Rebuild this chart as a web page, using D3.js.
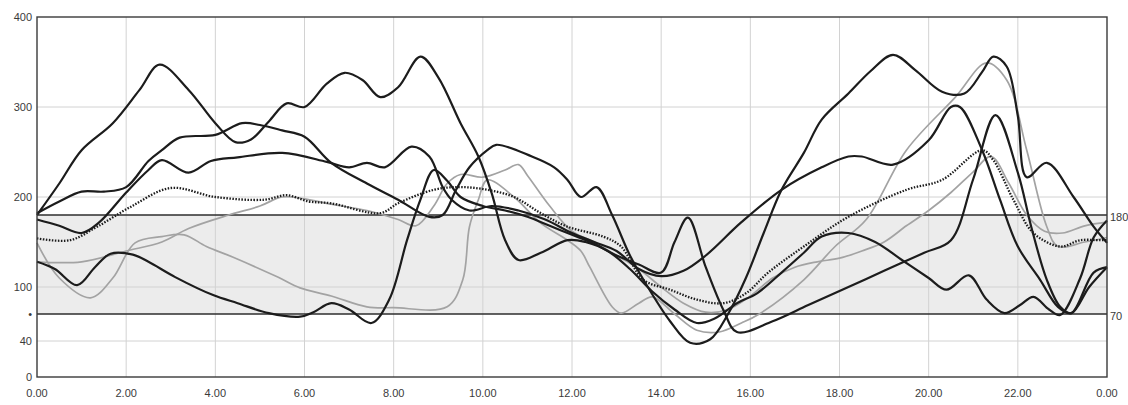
<!DOCTYPE html>
<html>
<head>
<meta charset="utf-8">
<script src="https://cdn.jsdelivr.net/npm/d3@7"></script>
<style>
  body { margin: 0; background: #fff; }
  text { font-family: "Liberation Sans", Arial, sans-serif; font-size: 11px; fill: #3a3a3a; }
</style>
</head>
<body>
<svg id="chart"></svg>
<script>
var svgWidth = 1128;
var svgHeight = 405;

// tick labels
var hourTicks = [0, 2, 4, 6, 8, 10, 12, 14, 16, 18, 20, 22, 24];
var hourLabels = ["0.00", "2.00", "4.00", "6.00", "8.00", "10.00", "12.00", "14.00", "16.00", "18.00", "20.00", "22.00", "0.00"];
var yTicks = [0, 40, 70, 100, 200, 300, 400];
var yLabels = ["0", "40", "•", "100", "200", "300", "400"];
var yGrid = [40, 100, 200, 300];
var targetLow = 70;
var targetHigh = 180;

// daily profiles: [hour, mg/dl]
var dayA = [[0,182],[0.5,195],[1,206],[1.5,206],[2,211],[2.5,240],[2.8,252],[3.2,266],[4,269],[4.6,282],[5,280],[5.5,274],[6,267],[6.6,238],[7.4,215],[8.1,197],[8.8,178],[9.1,180],[9.4,208],[9.7,233],[10.1,252],[10.3,258],[11.1,245],[11.6,233],[11.9,219],[12.2,200],[12.55,211],[12.9,180],[13.3,135],[13.7,100],[14.2,62],[14.65,38],[15.1,42],[15.5,70],[15.9,110],[16.3,160],[16.7,208],[17.2,249],[17.6,286],[18.2,315],[18.7,340],[19.2,358],[19.7,341],[20.3,317],[20.8,315],[21.2,339],[21.45,356],[21.75,345],[22.0,290],[22.2,222],[22.65,238],[23.25,200],[23.7,167],[24,149]];
var dayB = [[0,180],[0.5,215],[1,252],[1.7,282],[2.3,319],[2.75,347],[3.4,319],[4.0,282],[4.45,261],[4.8,264],[5.2,284],[5.6,304],[6.0,300],[6.5,326],[6.9,338],[7.3,330],[7.7,311],[8.1,322],[8.6,356],[9.0,333],[9.5,282],[9.9,245],[10.2,204],[10.5,152],[10.8,130],[11.3,138],[11.9,152],[12.3,150],[12.8,140],[13.3,120],[13.8,95],[14.3,75],[14.8,60],[15.2,65],[15.7,82],[16.15,93],[16.7,116],[17.2,138],[17.6,156],[18.2,160],[18.8,150],[19.4,130],[20.0,110],[20.4,97],[20.9,113],[21.3,86],[21.7,71],[22.05,80],[22.35,89],[22.7,75],[22.95,69],[23.4,110],[23.7,155],[24,174]];
var dayC = [[0,175],[0.5,168],[1.0,160],[1.4,172],[2.0,205],[2.5,230],[2.8,241],[3.4,227],[3.9,240],[4.5,244],[5.5,249],[6.5,239],[7.0,233],[7.4,238],[7.8,233],[8.4,256],[8.8,245],[9.1,211],[9.3,197],[9.7,185],[10.2,190],[10.8,185],[11.4,175],[12,160],[12.5,150],[13,140],[13.5,120],[14,112],[14.5,118],[15,135],[15.8,172],[16.7,208],[17.6,233],[18.2,245],[18.5,245],[19.2,236],[20,263],[20.5,300],[20.7,300],[21.2,252],[21.6,197],[22.0,145],[22.5,108],[22.9,78],[23.2,71],[23.6,100],[24,122]];
var dayD = [[0,128],[0.4,120],[0.9,102],[1.3,122],[1.65,137],[2.15,136],[2.5,128],[3.1,111],[3.95,91],[4.5,82],[5.2,71],[5.9,67],[6.2,72],[6.6,82],[7.0,75],[7.5,60],[7.9,86],[8.3,152],[8.6,197],[8.9,230],[9.2,218],[9.5,200],[10,190],[10.5,185],[11,178],[11.5,168],[12,158],[12.5,148],[13,135],[13.5,125],[14,116],[14.3,150],[14.6,177],[15,122],[15.4,74],[15.7,50],[16.5,62],[17.3,80],[18.2,100],[19,118],[19.9,138],[20.5,152],[21,220],[21.5,291],[22,227],[22.3,167],[22.65,108],[22.95,78],[23.2,71],[23.7,116],[24,122]];
var dayMean = [[0,154],[0.74,152],[1.35,167],[2.1,189],[3,210],[4,200],[5.1,197],[5.6,202],[6.1,195],[6.6,193],[7.7,182],[8.1,193],[8.9,208],[9.5,211],[10.1,208],[10.7,200],[11.3,182],[11.9,167],[12.7,156],[13.1,145],[13.6,108],[14.2,97],[14.8,86],[15.4,82],[15.9,93],[16.4,116],[17.2,145],[18.2,178],[19.5,208],[20.3,219],[21.2,252],[21.45,241],[21.9,197],[22.35,160],[22.95,145],[23.4,152],[23.85,152],[24,152]];
var dayE = [[0,149],[0.5,110],[1.2,88],[1.7,110],[2.2,149],[2.8,156],[3.3,158],[3.8,145],[4.4,133],[5.4,111],[5.9,99],[6.6,90],[7.4,78],[8.0,77],[9.2,78],[9.55,108],[9.7,167],[9.9,197],[10.1,219],[10.7,200],[11.3,171],[11.9,152],[12.2,140],[12.4,122],[12.9,78],[13.1,71],[13.5,82],[13.8,89],[14.3,70],[14.8,52],[15.3,50],[15.8,60],[16.2,70],[17.2,108],[17.9,145],[18.6,175],[19.5,252],[20.6,311],[21.3,349],[21.75,330],[22.2,252],[22.65,167],[22.9,145],[23.5,150],[24,155]];
var dayF = [[0,128],[1,128],[2,140],[2.8,150],[3.4,165],[4.3,180],[5.0,190],[5.5,200],[6,198],[6.6,192],[7.4,185],[8.1,175],[8.5,168],[8.9,190],[9.2,215],[9.5,225],[10,222],[10.5,230],[10.8,236],[11,224],[11.5,190],[12,162],[12.5,150],[13,135],[13.5,120],[14,100],[14.5,82],[15,72],[15.5,75],[16,90],[16.5,110],[17,122],[17.5,128],[18,132],[18.5,140],[19,150],[19.5,168],[20,185],[20.5,205],[21,228],[21.4,245],[21.8,215],[22.2,180],[22.6,162],[23,160],[23.5,168],[24,172]];

var series = [
  { data: dayE, kind: "gray" },
  { data: dayF, kind: "gray" },
  { data: dayA, kind: "black" },
  { data: dayB, kind: "black" },
  { data: dayC, kind: "black" },
  { data: dayD, kind: "black" },
  { data: dayMean, kind: "dotted" }
];

var x = d3.scaleLinear().domain([0, 24]).range([37, 1107]);
var y = d3.scaleLinear().domain([0, 400]).range([377, 17]);

var svg = d3.select("#chart")
  .attr("width", svgWidth)
  .attr("height", svgHeight);

// target band
svg.append("rect")
  .attr("x", x(0))
  .attr("y", y(targetHigh))
  .attr("width", x(24) - x(0))
  .attr("height", y(targetLow) - y(targetHigh))
  .attr("fill", "#ececec");

// grid
svg.selectAll(".hgrid")
  .data(yGrid)
  .enter().append("line")
  .attr("class", "hgrid")
  .attr("x1", x(0)).attr("x2", x(24))
  .attr("y1", function(d) { return y(d); })
  .attr("y2", function(d) { return y(d); })
  .attr("stroke", "#d2d2d2")
  .attr("stroke-width", 1);

svg.selectAll(".vgrid")
  .data(hourTicks.slice(1, -1))
  .enter().append("line")
  .attr("class", "vgrid")
  .attr("x1", function(d) { return x(d); })
  .attr("x2", function(d) { return x(d); })
  .attr("y1", y(400)).attr("y2", y(0))
  .attr("stroke", "#d2d2d2")
  .attr("stroke-width", 1);

// target limits
svg.selectAll(".limit")
  .data([targetLow, targetHigh])
  .enter().append("line")
  .attr("class", "limit")
  .attr("x1", x(0)).attr("x2", x(24))
  .attr("y1", function(d) { return y(d); })
  .attr("y2", function(d) { return y(d); })
  .attr("stroke", "#2e2e2e")
  .attr("stroke-width", 1.5);

// curves
var line = d3.line()
  .x(function(d) { return x(d[0]); })
  .y(function(d) { return y(d[1]); })
  .curve(d3.curveCatmullRom.alpha(0.5));

svg.selectAll(".day")
  .data(series)
  .enter().append("path")
  .attr("class", "day")
  .attr("d", function(d) { return line(d.data); })
  .attr("fill", "none")
  .attr("stroke", function(d) { return d.kind == "gray" ? "#a3a3a3" : "#1c1c1c"; })
  .attr("stroke-width", function(d) { return d.kind == "gray" ? 1.7 : (d.kind == "dotted" ? 2.3 : 2.2); })
  .attr("stroke-dasharray", function(d) { return d.kind == "dotted" ? "1.5,1.5" : null; })
  .attr("stroke-linejoin", "round");

// frame
svg.append("rect")
  .attr("x", x(0)).attr("y", y(400))
  .attr("width", x(24) - x(0))
  .attr("height", y(0) - y(400))
  .attr("fill", "none")
  .attr("stroke", "#3a3a3a")
  .attr("stroke-width", 1.4);

// axis labels
svg.selectAll(".ylab")
  .data(yTicks)
  .enter().append("text")
  .attr("class", "ylab")
  .attr("x", 32)
  .attr("y", function(d) { return y(d); })
  .attr("dy", "0.35em")
  .attr("text-anchor", "end")
  .text(function(d, i) { return yLabels[i]; });

svg.selectAll(".xlab")
  .data(hourTicks)
  .enter().append("text")
  .attr("class", "xlab")
  .attr("x", function(d) { return x(d); })
  .attr("y", 397)
  .attr("text-anchor", "middle")
  .text(function(d, i) { return hourLabels[i]; });

svg.selectAll(".rlab")
  .data([targetHigh, targetLow])
  .enter().append("text")
  .attr("class", "rlab")
  .attr("x", 1110)
  .attr("y", function(d) { return y(d) + 2; })
  .attr("dy", "0.35em")
  .text(function(d) { return d; });
</script>
</body>
</html>
